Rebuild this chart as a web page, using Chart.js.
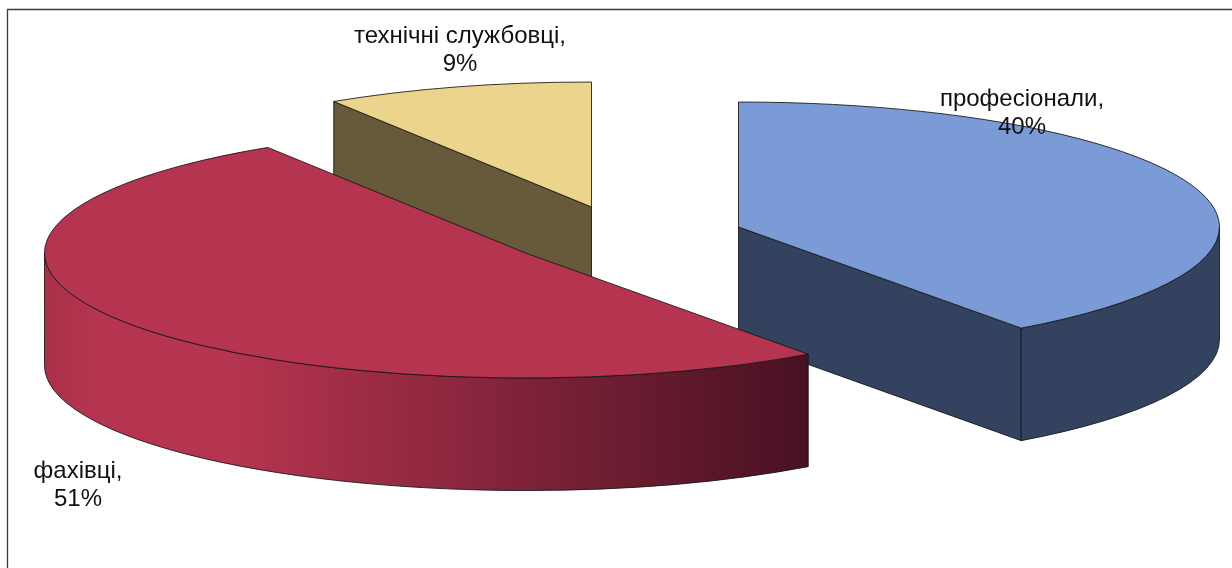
<!DOCTYPE html>
<html>
<head>
<meta charset="utf-8">
<style>html,body{margin:0;padding:0;background:#fff;overflow:hidden}canvas{display:block}</style>
<script src="https://cdn.jsdelivr.net/npm/chart.js@4"></script>
</head>
<body>
<canvas id="c" width="1232" height="568"></canvas>
<script>
const categories = ['професіонали', 'фахівці', 'технічні службовці'];
const shares = [40, 51, 9];
const topColors = ['#7a9bd6', '#b5344f', '#ecd48c'];
const sideColors = ['#33435f', null, '#665a3a'];

// 3D presentation of the pie: projection, explosion and label placement
const view = {
  rx: 481, ry: 125, depth: 112.5,
  centers: [[738.5, 227], [525.5, 253], [591.5, 207]],
  order: [2, 0, 1],
  labels: [[1022, 106], [78, 478], [460, 43]],
  lineHeight: 28,
  font: '24px "Liberation Sans", Arial, sans-serif'
};

const pie3d = {
  id: 'pie3d',
  beforeDatasetsDraw(chart) {
    const ctx = chart.ctx, arcs = chart.getDatasetMeta(0).data;
    const {rx, ry, depth} = view;
    const line = () => { ctx.strokeStyle = 'rgba(20,20,20,.85)'; ctx.lineWidth = 1; ctx.lineJoin = 'round'; ctx.stroke(); };
    for (const i of view.order) {
      const el = arcs[i], [cx, cy] = view.centers[i];
      const a0 = el.startAngle, a1 = el.endAngle;
      const px = a => cx + rx * Math.cos(a), py = a => cy + ry * Math.sin(a);
      const side = sideColors[i] || topColors[i];
      // cut faces
      const face = a => {
        ctx.beginPath();
        ctx.moveTo(cx, cy); ctx.lineTo(px(a), py(a));
        ctx.lineTo(px(a), py(a) + depth); ctx.lineTo(cx, cy + depth);
        ctx.closePath(); ctx.fillStyle = side; ctx.fill(); line();
      };
      if (Math.cos(a0) < -1e-6) face(a0);
      if (Math.cos(a1) > 1e-6) face(a1);
      // outer wall: the part of the rim that faces the viewer
      const lo = Math.max(a0, 0), hi = Math.min(a1, Math.PI);
      if (hi > lo) {
        ctx.beginPath();
        ctx.ellipse(cx, cy, rx, ry, 0, lo, hi);
        ctx.lineTo(px(hi), py(hi) + depth);
        ctx.ellipse(cx, cy + depth, rx, ry, 0, hi, lo, true);
        ctx.closePath();
        if (sideColors[i]) ctx.fillStyle = side;
        else {
          const x0 = cx - rx, x1 = px(lo), g = ctx.createLinearGradient(x0, 0, x1, 0);
          const at = x => (x - x0) / (x1 - x0);
          g.addColorStop(0, '#a83049');
          g.addColorStop(at(cx - rx * 0.9), topColors[i]);
          g.addColorStop(at(cx - rx * 0.6), topColors[i]);
          g.addColorStop(1, '#481122');
          ctx.fillStyle = g;
        }
        ctx.fill(); line();
      }
      // top face
      ctx.beginPath();
      ctx.moveTo(cx, cy);
      ctx.ellipse(cx, cy, rx, ry, 0, a0, a1);
      ctx.closePath();
      ctx.fillStyle = topColors[i]; ctx.fill(); line();
    }
    return false;
  },
  afterDraw(chart) {
    const ctx = chart.ctx;
    // chart frame (top and left edges are the ones in view)
    ctx.save();
    ctx.strokeStyle = '#3a3a3a'; ctx.lineWidth = 1.3;
    ctx.beginPath(); ctx.moveTo(7.5, 568); ctx.lineTo(7.5, 9.5); ctx.lineTo(1232, 9.5); ctx.stroke();
    ctx.fillStyle = '#111'; ctx.font = view.font; ctx.textAlign = 'center'; ctx.textBaseline = 'alphabetic';
    categories.forEach((name, i) => {
      const [x, y] = view.labels[i];
      ctx.fillText(name + ',', x, y);
      ctx.fillText(shares[i] + '%', x, y + view.lineHeight);
    });
    ctx.restore();
  }
};

new Chart(document.getElementById('c'), {
  type: 'pie',
  data: { labels: categories, datasets: [{ data: shares, backgroundColor: topColors, borderWidth: 0 }] },
  options: {
    responsive: false, animation: false,
    plugins: { legend: { display: false }, tooltip: { enabled: false } }
  },
  plugins: [pie3d]
});
</script>
</body>
</html>
